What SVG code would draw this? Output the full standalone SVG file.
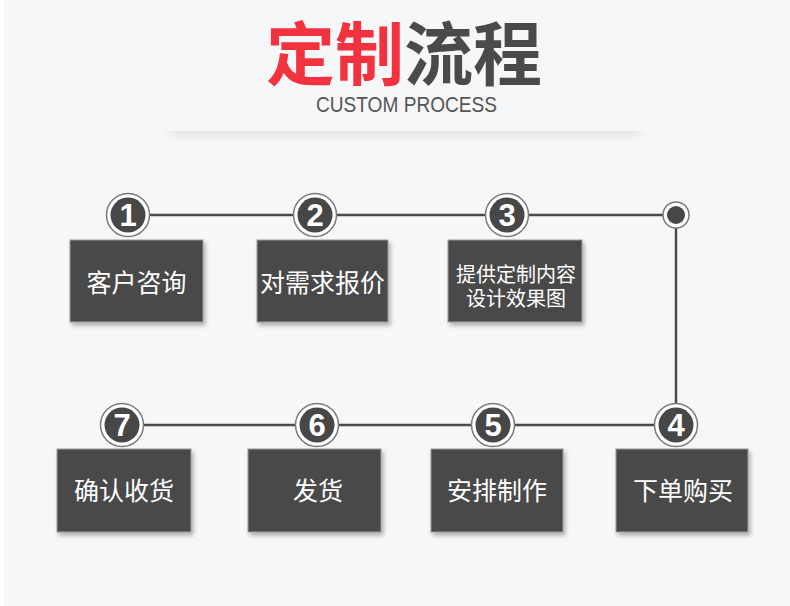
<svg xmlns="http://www.w3.org/2000/svg" width="790" height="606" viewBox="0 0 790 606">
  <defs>
    <style>
      .box { fill: #4a4a4a; stroke: #9a9a9a; stroke-width: 1; filter: url(#sh); }
      .btxt { fill: #ffffff; font-family: "Noto Sans CJK SC", sans-serif; font-size: 25px; text-anchor: middle; }
      .btxt2 { fill: #ffffff; font-family: "Noto Sans CJK SC", sans-serif; font-size: 20px; text-anchor: middle; }
      .ring { fill: #ffffff; stroke: #7a7a7a; stroke-width: 1.5; }
      .dot { fill: #474747; }
      .num { fill: #ffffff; font-family: "Liberation Sans", Arial, sans-serif; font-weight: bold; font-size: 31px; text-anchor: middle; }
      .conn { stroke: #4a4a4a; stroke-width: 2.5; fill: none; }
    </style>
    <filter id="sh" x="-10%" y="-10%" width="130%" height="130%">
      <feDropShadow dx="2" dy="3" stdDeviation="2" flood-color="#000" flood-opacity="0.3"/>
    </filter>
    <filter id="blur" x="-20%" y="-300%" width="140%" height="700%">
      <feGaussianBlur stdDeviation="6"/>
    </filter>
    <clipPath id="below">
      <rect x="0" y="131" width="790" height="40"/>
    </clipPath>
  </defs>

  <rect x="0" y="0" width="790" height="606" fill="#f6f7f9"/>
  <rect x="0" y="0" width="4" height="606" fill="#ffffff"/>

  <!-- header shadow -->
  <g clip-path="url(#below)">
    <rect x="170" y="124" width="470" height="9" fill="#000" opacity="0.13" filter="url(#blur)"/>
  </g>

  <!-- title -->
  <g id="title">
    <text x="404" y="80" font-family="Noto Sans CJK SC, sans-serif" font-weight="bold" font-size="69" text-anchor="middle"><tspan fill="#f2323f">定制</tspan><tspan fill="#4a4a4a">流程</tspan></text>
    <text x="316" y="112" font-family="Liberation Sans, Arial, sans-serif" font-size="22" fill="#555555" textLength="181" lengthAdjust="spacingAndGlyphs">CUSTOM PROCESS</text>
  </g>

  <!-- connectors -->
  <g id="connectors">
    <polyline class="conn" points="128,215 676,215 676,425 122,425"/>
  </g>

  <!-- end point -->
  <g id="start-dot">
    <circle class="ring" cx="676" cy="215" r="13"/>
    <circle class="dot" cx="676" cy="215" r="9"/>
  </g>

  <g id="step1">
    <circle class="ring" cx="128" cy="215" r="21.5"/>
    <circle class="dot" cx="128" cy="215" r="17.5"/>
    <text class="num" x="128" y="226">1</text>
    <rect class="box" x="70" y="240" width="133" height="82"/>
    <text class="btxt" x="136.5" y="292">客户咨询</text>
  </g>

  <g id="step2">
    <circle class="ring" cx="315" cy="215" r="21.5"/>
    <circle class="dot" cx="315" cy="215" r="17.5"/>
    <text class="num" x="315" y="226">2</text>
    <rect class="box" x="257" y="240" width="131" height="82"/>
    <text class="btxt" x="322.5" y="292">对需求报价</text>
  </g>

  <g id="step3">
    <circle class="ring" cx="507" cy="215" r="21.5"/>
    <circle class="dot" cx="507" cy="215" r="17.5"/>
    <text class="num" x="507" y="226">3</text>
    <rect class="box" x="448" y="240" width="134" height="82"/>
    <text class="btxt2" x="516" y="282">提供定制内容</text>
    <text class="btxt2" x="516" y="306">设计效果图</text>
  </g>

  <g id="step4">
    <circle class="ring" cx="676" cy="425" r="21.5"/>
    <circle class="dot" cx="676" cy="425" r="17.5"/>
    <text class="num" x="676" y="436">4</text>
    <rect class="box" x="616" y="449" width="132" height="83"/>
    <text class="btxt" x="683" y="500">下单购买</text>
  </g>

  <g id="step5">
    <circle class="ring" cx="493" cy="425" r="21.5"/>
    <circle class="dot" cx="493" cy="425" r="17.5"/>
    <text class="num" x="493" y="436">5</text>
    <rect class="box" x="431" y="449" width="132" height="83"/>
    <text class="btxt" x="497" y="500">安排制作</text>
  </g>

  <g id="step6">
    <circle class="ring" cx="317" cy="425" r="21.5"/>
    <circle class="dot" cx="317" cy="425" r="17.5"/>
    <text class="num" x="317" y="436">6</text>
    <rect class="box" x="248" y="449" width="133" height="83"/>
    <text class="btxt" x="318" y="500">发货</text>
  </g>

  <g id="step7">
    <circle class="ring" cx="122" cy="425" r="21.5"/>
    <circle class="dot" cx="122" cy="425" r="17.5"/>
    <text class="num" x="122" y="436">7</text>
    <rect class="box" x="57" y="449" width="134" height="83"/>
    <text class="btxt" x="124" y="500">确认收货</text>
  </g>
</svg>
